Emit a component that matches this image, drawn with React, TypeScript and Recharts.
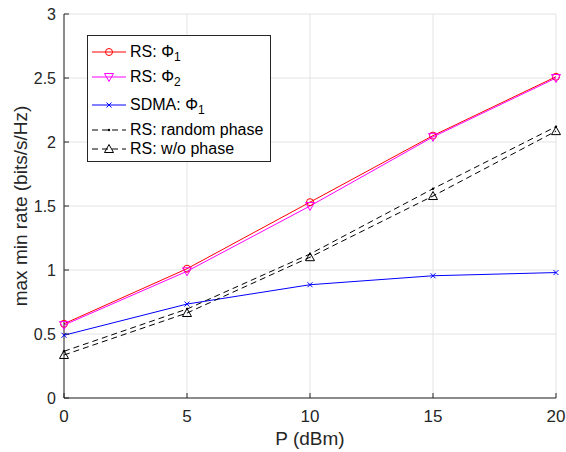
import React from 'react'
import {
  LineChart,
  Line,
  XAxis,
  YAxis,
  CartesianGrid,
} from 'recharts'

// P (dBm) and the max-min rate of each scheme
const powers = [0, 5, 10, 15, 20]
const rsPhi1 = [0.58, 1.01, 1.53, 2.05, 2.51]
const rsPhi2 = [0.57, 0.99, 1.5, 2.04, 2.5]
const sdmaPhi1 = [0.49, 0.734, 0.885, 0.955, 0.98]
const rsRandom = [0.365, 0.695, 1.125, 1.635, 2.12]
const rsNoPhase = [0.336, 0.664, 1.1, 1.578, 2.085]

const xTicks = [0, 5, 10, 15, 20]
const yTicks = [0, 0.5, 1, 1.5, 2, 2.5, 3]

const chartData = powers.map((p, i) => ({
  p,
  rsPhi1: rsPhi1[i],
  rsPhi2: rsPhi2[i],
  sdma: sdmaPhi1[i],
  random: rsRandom[i],
  noPhase: rsNoPhase[i],
}))

const FONT = 'Liberation Sans, Arial, Helvetica, sans-serif'
const AXIS = '#262626'

type Shape = 'circle' | 'down' | 'x' | 'dot' | 'up'

const Marker = ({ cx, cy, shape, color }: { cx: number; cy: number; shape: Shape; color: string }) => {
  if (cx == null || cy == null) return null
  switch (shape) {
    case 'circle':
      return <circle cx={cx} cy={cy} r={3.5} fill="none" stroke={color} strokeWidth={1} />
    case 'down':
      return <path d={`M${cx - 4.5},${cy - 3.5} L${cx + 4.5},${cy - 3.5} L${cx},${cy + 4.5} Z`} fill="none" stroke={color} strokeWidth={1} />
    case 'up':
      return <path d={`M${cx - 4.5},${cy + 3.5} L${cx + 4.5},${cy + 3.5} L${cx},${cy - 4.5} Z`} fill="none" stroke={color} strokeWidth={1} />
    case 'x':
      return <path d={`M${cx - 2.5},${cy - 2.5} L${cx + 2.5},${cy + 2.5} M${cx - 2.5},${cy + 2.5} L${cx + 2.5},${cy - 2.5}`} stroke={color} strokeWidth={1} />
    case 'dot':
      return <circle cx={cx} cy={cy} r={1.2} fill={color} />
  }
}

const series = [
  { key: 'rsPhi1', color: '#ff0000', shape: 'circle' as Shape, dash: undefined, label: 'RS: ', sym: 'Φ', sub: '1', row: 17 },
  { key: 'rsPhi2', color: '#ff00ff', shape: 'down' as Shape, dash: undefined, label: 'RS: ', sym: 'Φ', sub: '2', row: 42 },
  { key: 'sdma', color: '#0000ff', shape: 'x' as Shape, dash: undefined, label: 'SDMA: ', sym: 'Φ', sub: '1', row: 70 },
  { key: 'random', color: '#000000', shape: 'dot' as Shape, dash: '6 4', label: 'RS: random phase', sym: '', sub: '', row: 95 },
  { key: 'noPhase', color: '#000000', shape: 'up' as Shape, dash: '6 4', label: 'RS: w/o phase', sym: '', sub: '', row: 114 },
]

const LegendBox = () => (
  <div
    style={{
      position: 'absolute',
      left: 87,
      top: 35,
      width: 184,
      height: 127,
      border: '1px solid #262626',
      background: '#fff',
      boxSizing: 'border-box',
      fontFamily: FONT,
      fontSize: 16,
      color: '#000',
    }}
  >
    {series.map(s => (
      <div
        key={s.key}
        style={{ position: 'absolute', left: 0, top: s.row - 11, height: 20, display: 'flex', alignItems: 'center' }}
      >
        <svg width={34} height={14} style={{ marginLeft: 4, marginRight: 4, flex: 'none' }}>
          <line x1={0} y1={7} x2={34} y2={7} stroke={s.color} strokeWidth={1} strokeDasharray={s.dash} />
          <Marker cx={17} cy={7} shape={s.shape} color={s.color} />
        </svg>
        <span style={{ whiteSpace: 'nowrap', lineHeight: '20px' }}>
          {s.label}
          {s.sym}
          {s.sub && <sub style={{ fontSize: 12, lineHeight: 0 }}>{s.sub}</sub>}
        </span>
      </div>
    ))}
  </div>
)

export default function App() {
  return (
    <div style={{ position: 'absolute', left: 0, top: 0, width: 566, height: 452, background: '#fff' }}>
      <LineChart
        width={566}
        height={452}
        data={chartData}
        margin={{ top: 14, right: 10, bottom: 0, left: 0 }}
        style={{ fontFamily: FONT }}
      >
        <CartesianGrid stroke="#e3e3e3" horizontal vertical />
        <XAxis
          dataKey="p"
          type="number"
          domain={[0, 20]}
          ticks={xTicks}
          height={54}
          stroke={AXIS}
          tickSize={-5}
          tickMargin={17}
          tick={{ fill: AXIS, fontSize: 17 }}
          label={{
            content: ({ viewBox }: any) => (
              <text x={viewBox.x + viewBox.width / 2} y={viewBox.y + 47} textAnchor="middle" fill={AXIS} fontSize={19}>
                P (dBm)
              </text>
            ),
          }}
        />
        <XAxis
          xAxisId="top"
          dataKey="p"
          type="number"
          orientation="top"
          domain={[0, 20]}
          ticks={xTicks}
          height={0}
          stroke={AXIS}
          tickSize={-5}
          tickFormatter={() => ''}
        />
        <YAxis
          type="number"
          domain={[0, 3]}
          ticks={yTicks}
          width={64}
          stroke={AXIS}
          tickSize={-5}
          tickMargin={13}
          tick={{ fill: AXIS, fontSize: 16 }}
          label={{
            content: ({ viewBox }: any) => (
              <text
                x={27}
                y={viewBox.y + viewBox.height / 2}
                textAnchor="middle"
                fill={AXIS}
                fontSize={19}
                transform={`rotate(-90, 27, ${viewBox.y + viewBox.height / 2})`}
              >
                max min rate (bits/s/Hz)
              </text>
            ),
          }}
        />
        <YAxis
          yAxisId="right"
          orientation="right"
          type="number"
          domain={[0, 3]}
          ticks={yTicks}
          width={0}
          stroke={AXIS}
          tickSize={-5}
          tickFormatter={() => ''}
        />
        {series.map(s => (
          <Line
            key={s.key}
            dataKey={s.key}
            type="linear"
            stroke={s.color}
            strokeWidth={1}
            strokeDasharray={s.dash}
            isAnimationActive={false}
            dot={(props: any) => <Marker key={`${s.key}-${props.index}`} cx={props.cx} cy={props.cy} shape={s.shape} color={s.color} />}
            activeDot={false}
          />
        ))}
      </LineChart>
      <LegendBox />
    </div>
  )
}
